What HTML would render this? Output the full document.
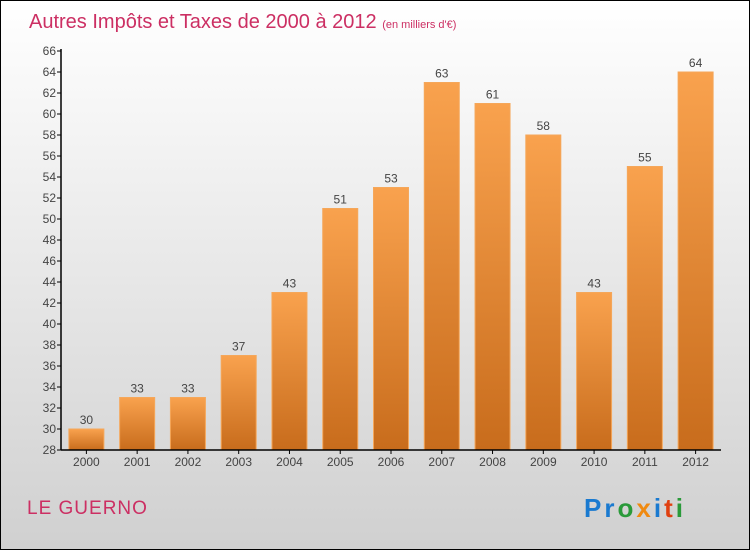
<!DOCTYPE html>
<html><head><meta charset="utf-8"><style>
body{margin:0;}
#wrap{position:relative;width:748px;height:548px;border:1px solid #000;background:linear-gradient(#ffffff,#d0d0d0);font-family:"Liberation Sans",sans-serif;overflow:hidden}
</style></head><body>
<div id="wrap">
<svg id="chart" width="748" height="548">
<defs>
<linearGradient id="bg" x1="0" y1="0" x2="0" y2="1"><stop offset="0" stop-color="#f9a24e"/><stop offset="1" stop-color="#c86c1c"/></linearGradient>
</defs>
<text x="28" y="27" font-size="20" fill="#cc2f63">Autres Impôts et Taxes de 2000 à 2012 <tspan font-size="11">(en milliers d'€)</tspan></text>
<g id="plot"></g>
<text x="26" y="513" font-size="19" letter-spacing="1" fill="#cc2f63">LE GUERNO</text>
<text x="583" y="516" font-size="26" letter-spacing="3" font-weight="bold"><tspan fill="#1a7ad0">Pr</tspan><tspan fill="#2a9a3a">o</tspan><tspan fill="#f08a10">x</tspan><tspan fill="#1a7ad0">i</tspan><tspan fill="#e04010">t</tspan><tspan fill="#2a9a3a">i</tspan></text>
</svg>
</div>
<script>
const categories=["2000","2001","2002","2003","2004","2005","2006","2007","2008","2009","2010","2011","2012"];
const values=[30,33,33,37,43,51,53,63,61,58,43,55,64];
const yTicks=[28,30,32,34,36,38,40,42,44,46,48,50,52,54,56,58,60,62,64,66];
const NS="http://www.w3.org/2000/svg";
const g=document.getElementById('plot');
const x0=60,x1=720,yMin=28,yMax=66,py0=449,py1=50;
const y=v=>py0-(v-yMin)/(yMax-yMin)*(py0-py1);
const bw=(x1-x0)/categories.length;
function mk(t,a,txt){const e=document.createElementNS(NS,t);for(const k in a)e.setAttribute(k,a[k]);if(txt!==undefined)e.textContent=txt;g.appendChild(e);return e;}
yTicks.forEach(v=>{
 const l=mk('line',{x1:x0-4,x2:x0,y1:y(v),y2:y(v),stroke:'#000'});
 
 
 const t=mk('text',{x:x0-5,y:y(v)+4,'font-size':12,fill:'#444','text-anchor':'end'},v);
 
 
});
categories.forEach((c,i)=>{
 const cx=x0+bw*(i+0.5);
 const r=mk('rect',{x:cx-17.5,y:y(values[i]),width:35,height:py0-y(values[i]),fill:'url(#bg)',stroke:'#f5a75a','stroke-width':1});
 
 
 const v=mk('text',{x:cx,y:y(values[i])-5,'font-size':12,fill:'#444','text-anchor':'middle'},values[i]);
 
 
 const tk=mk('line',{x1:cx,x2:cx,y1:py0,y2:py0+4,stroke:'#000'});
 
 
 const t=mk('text',{x:cx,y:py0+16,'font-size':12,fill:'#444','text-anchor':'middle'},c);
 
 
});
const ya=mk('line',{x1:x0,x2:x0,y1:py1-2,y2:py0,stroke:'#000','stroke-width':1.5});


const xa=mk('line',{x1:x0,x2:x1,y1:py0,y2:py0,stroke:'#000','stroke-width':1.5});


</script>
</body></html>
